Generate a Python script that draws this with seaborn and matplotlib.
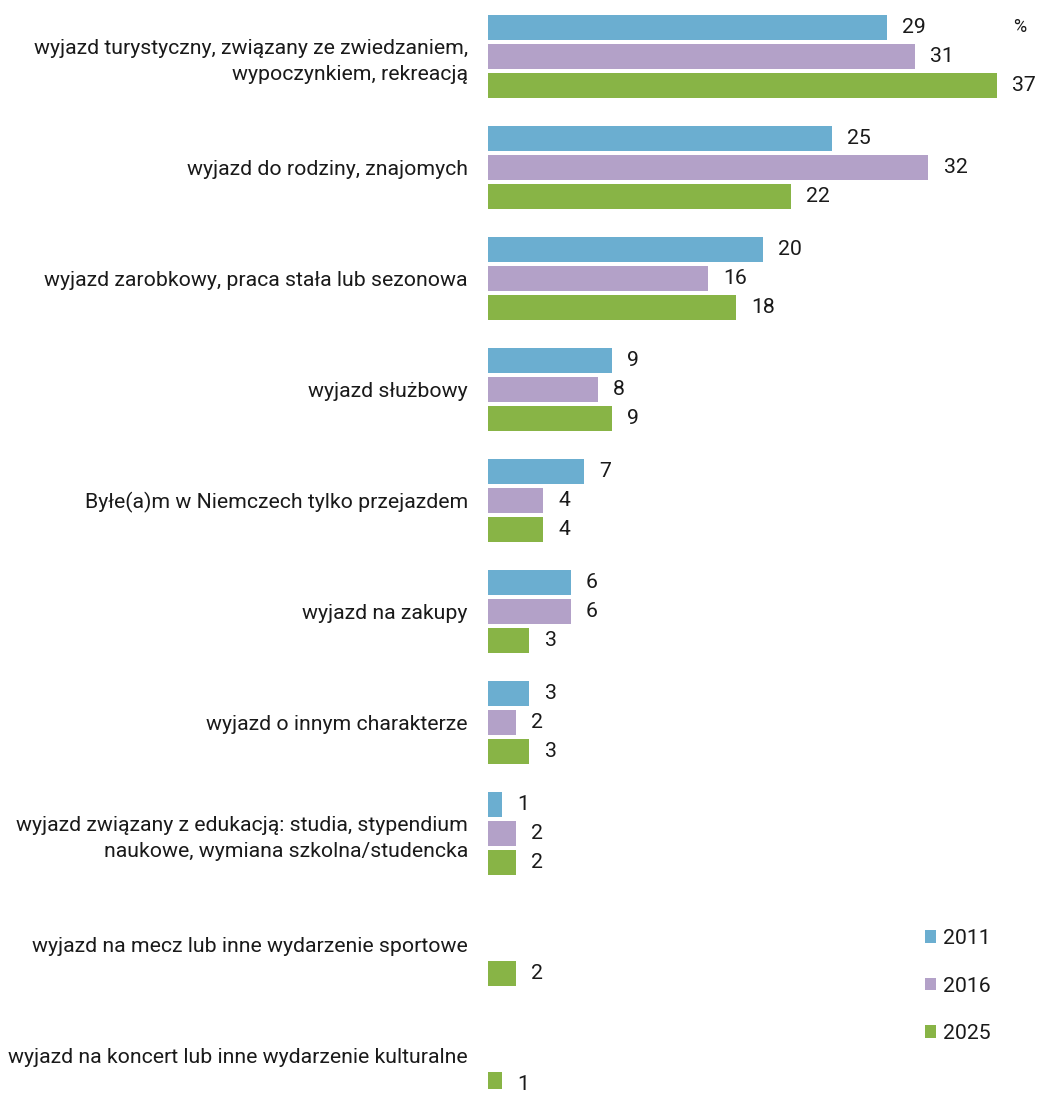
import pandas as pd
import numpy as np
import matplotlib.pyplot as plt
import seaborn as sns
from matplotlib.patches import Patch

# Data (percent)
categories = [
    "wyjazd turystyczny, związany ze zwiedzaniem,\nwypoczynkiem, rekreacją",
    "wyjazd do rodziny, znajomych",
    "wyjazd zarobkowy, praca stała lub sezonowa",
    "wyjazd służbowy",
    "Byłe(a)m w Niemczech tylko przejazdem",
    "wyjazd na zakupy",
    "wyjazd o innym charakterze",
    "wyjazd związany z edukacją: studia, stypendium\nnaukowe, wymiana szkolna/studencka",
    "wyjazd na mecz lub inne wydarzenie sportowe",
    "wyjazd na koncert lub inne wydarzenie kulturalne",
]
years = ["2011", "2016", "2025"]
values_2011 = [29, 25, 20, 9, 7, 6, 3, 1, np.nan, np.nan]
values_2016 = [31, 32, 16, 8, 4, 6, 2, 2, np.nan, np.nan]
values_2025 = [37, 22, 18, 9, 4, 3, 3, 2, 2, 1]
colors = ["#6BAED0", "#B3A1C8", "#88B446"]

df = pd.DataFrame({
    "kategoria": categories * 3,
    "rok": [y for y in years for _ in categories],
    "wartosc": values_2011 + values_2016 + values_2025,
})

sns.set_style("white")
plt.rcParams["font.family"] = ["Roboto", "DejaVu Sans"]
FS = 15.3
TXT = "#1a1a1a"

W, H = 1038, 1093
fig = plt.figure(figsize=(W / 100, H / 100), dpi=100)
# axes placed in pixel terms: bars start at x=488, groups 111 px apart
ax = fig.add_axes([488 / W, (H - 1088.8) / H, 550.4 / W, 1087.8 / H])

sns.barplot(data=df, y="kategoria", x="wartosc", hue="rok", hue_order=years,
            order=categories, palette=colors, orient="y", width=0.784,
            gap=0.14, ax=ax, legend=False, saturation=1, linewidth=0)

for cont in ax.containers:
    ax.bar_label(cont, labels=[f"{v:.0f}" if np.isfinite(v) else "" for v in cont.datavalues],
                 padding=11, fontsize=FS, color=TXT)

ax.set_xlim(0, 40)
ax.set_ylim(9.3, -0.5)
ax.set_xlabel("")
ax.set_ylabel("")
ax.set_xticks([])
ax.tick_params(axis="y", length=0, pad=14.5, labelsize=FS, labelcolor=TXT)
for lbl in ax.get_yticklabels():
    lbl.set_linespacing(1.42)
sns.despine(ax=ax, left=True, bottom=True)

fig.text(1020 / W, 1 - 27 / H, "%", ha="center", va="center", fontsize=13, color=TXT)

handles = [Patch(facecolor=c, edgecolor="none", label=y) for c, y in zip(colors, years)]
fig.legend(handles=handles, loc="upper left", bbox_to_anchor=(906 / W, 1 - 910 / H),
           frameon=False, fontsize=FS, handlelength=0.52, handleheight=0.52,
           handletextpad=0.3, labelspacing=1.34, labelcolor=TXT)

fig.savefig("out.png", dpi=100, facecolor="white")
